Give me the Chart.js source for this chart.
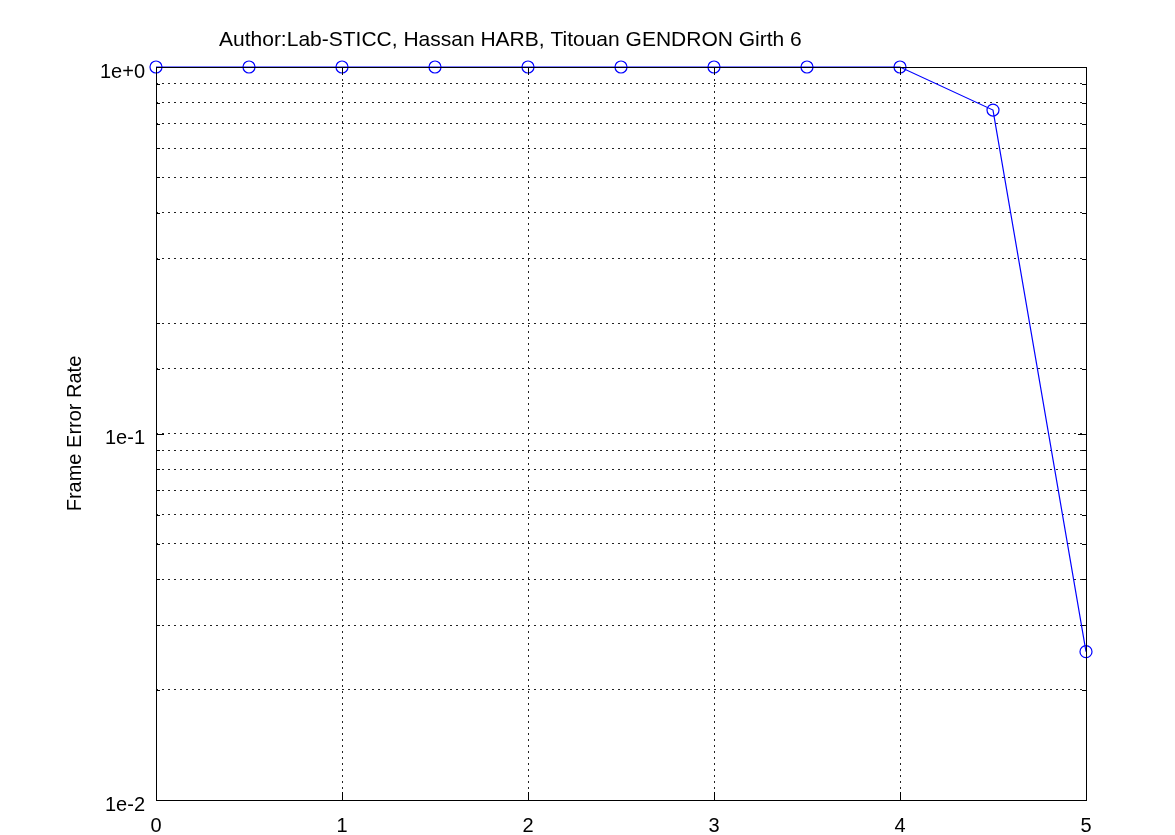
<!DOCTYPE html>
<html>
<head>
<meta charset="utf-8">
<title>Frame Error Rate</title>
<script src="https://cdn.jsdelivr.net/npm/chart.js@4/dist/chart.umd.min.js"></script>
<style>
  body { margin: 0; background: #fff; }
  canvas { display: block; }
</style>
</head>
<body>
<canvas id="ferChart" width="1175" height="835"></canvas>
<script>
// Eb/N0 points and measured frame error rate
const snrValues = [0, 0.5, 1, 1.5, 2, 2.5, 3, 3.5, 4, 4.5, 5];
const ferValues = [1, 1, 1, 1, 1, 1, 1, 1, 1, 0.763, 0.0254];
const xTickValues = [0, 1, 2, 3, 4, 5];
const yMajorLabels = { 1: '1e+0', 0.1: '1e-1', 0.01: '1e-2' };

const titleText = 'Author:Lab-STICC, Hassan HARB, Titouan GENDRON Girth 6';
const fontFamily = '"Liberation Sans", Arial, Helvetica, sans-serif';

// draws the title, the box round the plot and the small inner ticks
const framePlugin = {
    id: 'frame',
    afterDraw(chart) {
        const ctx = chart.ctx;
        const area = chart.chartArea;
        const xs = chart.scales.x;
        const ys = chart.scales.y;
        ctx.save();

        ctx.fillStyle = '#000';
        ctx.font = '21px ' + fontFamily;
        ctx.textBaseline = 'alphabetic';
        ctx.fillText(titleText, 219, 46);

        ctx.strokeStyle = '#000';
        ctx.lineWidth = 1;
        ctx.strokeRect(area.left + 0.5, area.top + 0.5, area.right - area.left, area.bottom - area.top);

        ctx.beginPath();
        xs.ticks.forEach(t => {
            const px = Math.round(xs.getPixelForValue(t.value)) + 0.5;
            ctx.moveTo(px, area.bottom); ctx.lineTo(px, area.bottom - 8);
            ctx.moveTo(px, area.top); ctx.lineTo(px, area.top + 8);
        });
        ys.ticks.forEach(t => {
            const py = Math.round(ys.getPixelForValue(t.value)) + 0.5;
            const len = yMajorLabels[t.value] ? 8 : 4;
            ctx.moveTo(area.left, py); ctx.lineTo(area.left + len, py);
            ctx.moveTo(area.right, py); ctx.lineTo(area.right - len, py);
        });
        ctx.stroke();
        ctx.restore();
    }
};

const ctx = document.getElementById('ferChart').getContext('2d');
const chart = new Chart(ctx, {
    type: 'line',
    data: {
        datasets: [{
            label: 'FER',
            data: snrValues.map((x, i) => ({ x: x, y: ferValues[i] })),
            borderColor: '#0000ff',
            borderWidth: 1.2,
            pointStyle: 'circle',
            pointRadius: 6,
            pointBorderWidth: 1.2,
            pointBorderColor: '#0000ff',
            pointBackgroundColor: 'rgba(0,0,0,0)',
            fill: false,
            tension: 0,
            clip: false
        }]
    },
    options: {
        responsive: false,
        animation: false,
        layout: { padding: { left: 0, top: 67, right: 89, bottom: 0 } },
        plugins: {
            legend: { display: false },
            tooltip: { enabled: false }
        },
        scales: {
            x: {
                type: 'linear',
                min: 0,
                max: 5,
                afterBuildTicks: scale => {
                    scale.ticks = xTickValues.map(v => ({ value: v }));
                },
                afterFit: scale => { scale.height = 35; },
                border: { display: false, dash: [2, 4] },
                grid: {
                    color: '#222',
                    lineWidth: 1,
                    drawTicks: false
                },
                ticks: {
                    padding: 14,
                    color: '#000',
                    maxRotation: 0,
                    font: { family: fontFamily, size: 20 },
                    callback: v => String(v)
                }
            },
            y: {
                type: 'logarithmic',
                min: 0.01,
                max: 1,
                afterFit: scale => { scale.width = 156; },
                border: { display: false, dash: [2, 4] },
                grid: {
                    color: '#222',
                    lineWidth: 1,
                    drawTicks: false
                },
                title: {
                    display: true,
                    text: 'Frame Error Rate',
                    color: '#000',
                    font: { family: fontFamily, size: 20 },
                    padding: { top: 63, bottom: 0 }
                },
                ticks: {
                    autoSkip: false,
                    padding: 11,
                    labelOffset: 5,
                    color: '#000',
                    font: { family: fontFamily, size: 20 },
                    callback: v => yMajorLabels[v] || ''
                }
            }
        }
    },
    plugins: [framePlugin]
});
</script>
</body>
</html>
